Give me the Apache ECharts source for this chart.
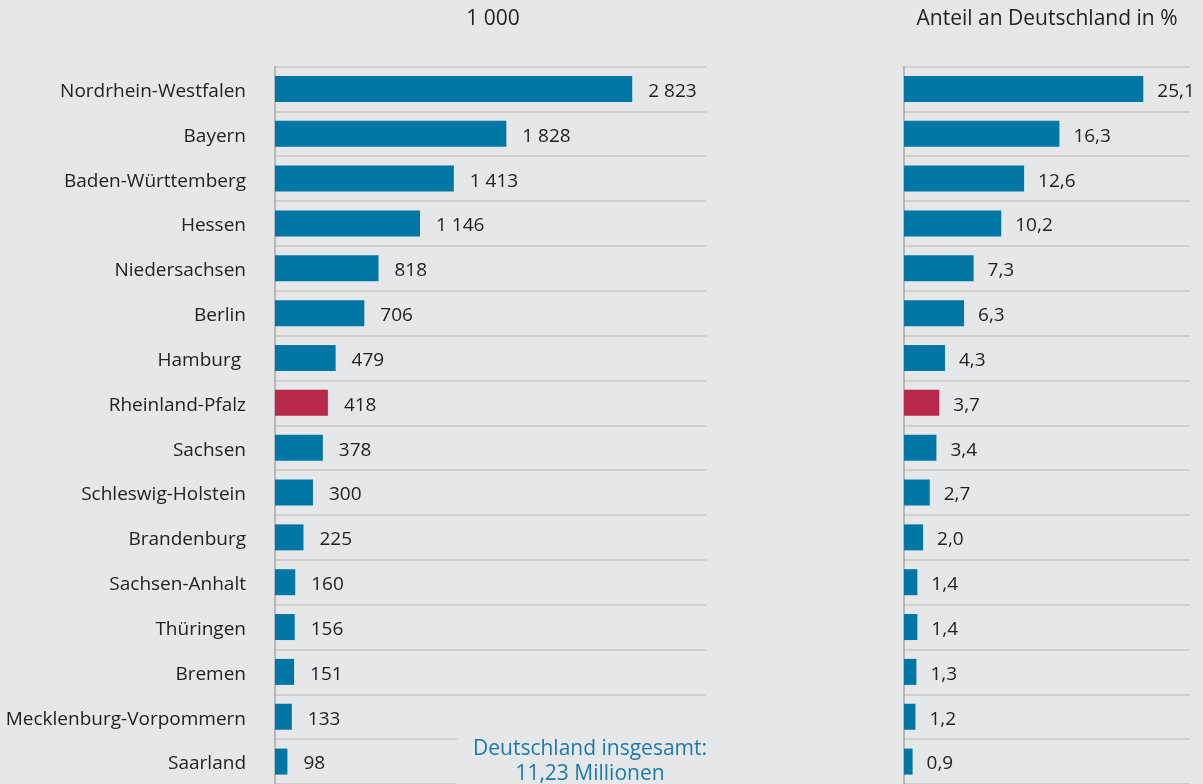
<!DOCTYPE html>
<html>
<head>
<meta charset="utf-8">
<script src="https://cdn.jsdelivr.net/npm/echarts@6/dist/echarts.min.js"></script>
<style>
  html, body { margin: 0; padding: 0; background: #e6e7e9; }
  #chart { width: 1203px; height: 784px; }
</style>
</head>
<body>
<div id="chart"></div>
<script>
var categories = ['Nordrhein-Westfalen', 'Bayern', 'Baden-Württemberg', 'Hessen', 'Niedersachsen', 'Berlin', 'Hamburg ',
    'Rheinland-Pfalz', 'Sachsen', 'Schleswig-Holstein', 'Brandenburg', 'Sachsen-Anhalt', 'Thüringen', 'Bremen',
    'Mecklenburg-Vorpommern', 'Saarland'];
var absValues = [2823, 1828, 1413, 1146, 818, 706, 479, 418, 378, 300, 225, 160, 156, 151, 133, 98];
var shareValues = [25.1, 16.3, 12.6, 10.2, 7.3, 6.3, 4.3, 3.7, 3.4, 2.7, 2.0, 1.4, 1.4, 1.3, 1.2, 0.9];
var highlight = 'Rheinland-Pfalz';

var blue = '#0076a4';
var red = '#b8284b';
var font = 'Open Sans';

// text a bit lower than the row centre, as in the print layout
var lowered = { t: { fontSize: 19, color: '#222', fontFamily: font, padding: [5, 0, 0, 0] } };

function barColor(p) {
    return categories[p.dataIndex] === highlight ? red : blue;
}
function fmtThousands(v) {
    return String(v).replace(/\B(?=(\d{3})+(?!\d))/g, ' ');
}

var myChart = echarts.init(document.getElementById('chart'));

var catAxis = {
    type: 'category',
    inverse: true,
    data: categories,
    axisLine: { show: true, lineStyle: { color: '#a8a9ab', width: 1.5 } },
    axisTick: { show: false },
    splitLine: { show: true, interval: 0, lineStyle: { color: '#c6c7c9', width: 1.5 } }
};

var option = {
    backgroundColor: '#e6e7e9',
    animation: false,
    textStyle: { fontFamily: font },
    grid: [
        { left: 275, top: 66.5, width: 431, height: 720.5 },
        { left: 904, top: 66.5, width: 286, height: 720.5 }
    ],
    xAxis: [
        { type: 'value', gridIndex: 0, min: 0, max: 3406, show: false },
        { type: 'value', gridIndex: 1, min: 0, max: 30, show: false }
    ],
    yAxis: [
        Object.assign({}, catAxis, {
            gridIndex: 0,
            axisLabel: {
                margin: 29, fontSize: 19, color: '#222', fontFamily: font,
                formatter: function (v) { return '{t|' + v + '}'; },
                rich: lowered
            }
        }),
        Object.assign({}, catAxis, {
            gridIndex: 1,
            axisLabel: { show: false }
        })
    ],
    series: [
        {
            type: 'bar',
            xAxisIndex: 0,
            yAxisIndex: 0,
            data: absValues,
            barWidth: 26,
            itemStyle: { color: barColor },
            label: {
                show: true,
                position: 'right',
                distance: 16,
                fontSize: 19,
                color: '#222',
                fontFamily: font,
                formatter: function (p) { return '{t|' + fmtThousands(p.value) + '}'; },
                rich: lowered
            }
        },
        {
            type: 'bar',
            xAxisIndex: 1,
            yAxisIndex: 1,
            data: shareValues,
            barWidth: 26,
            itemStyle: { color: barColor },
            label: {
                show: true,
                position: 'right',
                distance: 14,
                fontSize: 19,
                color: '#222',
                fontFamily: font,
                formatter: function (p) { return '{t|' + p.value.toFixed(1).replace('.', ',') + '}'; },
                rich: lowered
            }
        }
    ],
    graphic: [
        {
            type: 'text', x: 493, y: 19,
            style: { text: '1 000', fill: '#222', fontSize: 21, fontFamily: font,
                textAlign: 'center', textVerticalAlign: 'middle' }
        },
        {
            type: 'text', x: 1047, y: 19,
            style: { text: 'Anteil an Deutschland in %', fill: '#222', fontSize: 21, fontFamily: font,
                textAlign: 'center', textVerticalAlign: 'middle' }
        },
        {
            type: 'rect', z: 100,
            shape: { x: 457, y: 738, width: 265, height: 46 },
            style: { fill: '#e6e7e9' }
        },
        {
            type: 'text', z: 101, x: 590, y: 762,
            style: { text: 'Deutschland insgesamt:\n11,23 Millionen', fill: '#1c7aa7',
                fontSize: 21, fontFamily: font, lineHeight: 25,
                textAlign: 'center', textVerticalAlign: 'middle' }
        }
    ]
};

myChart.setOption(option);
</script>
</body>
</html>
